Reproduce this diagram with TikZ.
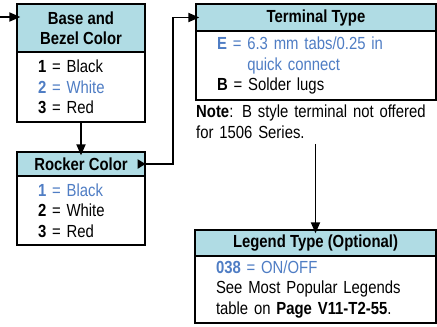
\documentclass[tikz,border=0pt]{standalone}
\usepackage{fontspec}
\setmainfont{Liberation Sans}[FakeStretch=0.85]
\usepackage{tikz}
\usetikzlibrary{arrows.meta,positioning,calc}
\definecolor{hdblue}{RGB}{176,220,228}
\definecolor{txtblue}{RGB}{79,125,196}
\newcommand{\bl}[1]{\textcolor{txtblue}{#1}}

\begin{document}
\begin{tikzpicture}[
  x=1pt, y=-1pt,
  font=\fontsize{17.5}{20.5}\selectfont,
  head/.style={rectangle, draw=black, line width=1.3pt, fill=hdblue, font=\fontsize{17.5}{20.5}\selectfont\bfseries,
               align=center, inner sep=0pt},
  body/.style={rectangle, draw=black, line width=1.3pt, fill=white, align=left,
               inner xsep=21pt, inner ysep=0pt},
  arr/.style={-{Triangle[length=11pt,width=9pt]}, line width=1.8pt, shorten >=-4pt},
]
\useasboundingbox (0,0) rectangle (437,327);
\node[head, minimum width=128, minimum height=48] (basehead) at (81,28) {Base and\\Bezel Color};
\node[body, text width=86, minimum height=70] (basebody) at (81,87)
  {\textbf{1} = Black\\\bl{\textbf{2} = White}\\\textbf{3} = Red};
\node[head, minimum width=128, minimum height=24] (rockhead) at (81,164) {Rocker Color};
\node[body, text width=86, minimum height=69] (rockbody) at (81,210.5)
  {\bl{\textbf{1} = Black}\\\textbf{2} = White\\\textbf{3} = Red};
\node[head, minimum width=240, minimum height=27] (termhead) at (316,17.5) {Terminal Type};
\node[body, text width=198, minimum height=69] (termbody) at (316,65.5)
  {\bl{\textbf{E} = 6.3 mm tabs/0.25 in}\\\bl{\phantom{\textbf{E} = }quick connect}\\\textbf{B} = Solder lugs};
\node[anchor=north west, inner sep=0pt, text width=240, align=left] (note) at (196,105)
  {\textbf{Note}: B style terminal not offered\\for 1506 Series.};
\node[head, minimum width=241, minimum height=26] (leghead) at (315.5,243) {Legend Type (Optional)};
\node[body, text width=199, minimum height=67] (legbody) at (315.5,289.5)
  {\bl{\textbf{038} = ON/OFF}\\See Most Popular Legends\\table on \textbf{Page V11-T2-55}.};
\coordinate (feed) at (0,17);
\path (note.south -| leghead.north) ++(0,5) coordinate (drop);
\draw[arr] (feed) -- (feed -| basehead.west);
\draw[arr] (basebody.south) -- (rockhead.north);
\draw[arr, {Triangle[reversed,length=8pt,width=9pt]}-{Triangle[length=11pt,width=9pt]}, shorten <=-8pt]
  (rockhead.east) -- ++(27,0) |- (termhead.west);
\draw[arr] (drop) -- (leghead.north);
\end{tikzpicture}
\end{document}
